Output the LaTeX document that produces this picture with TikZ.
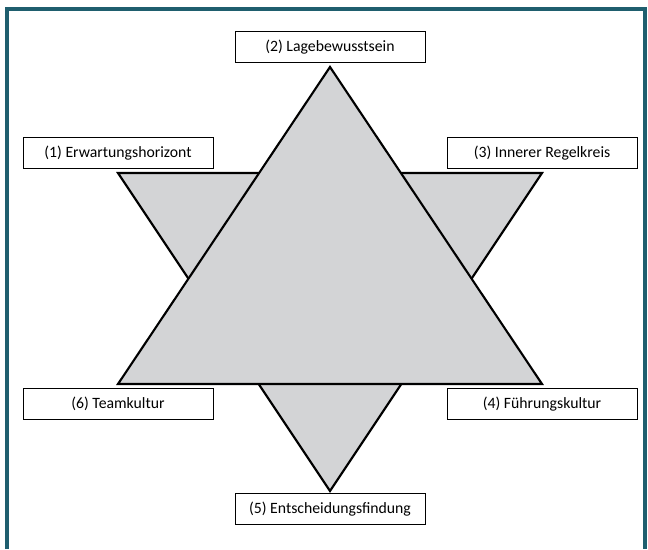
\documentclass[tikz,border=0pt]{standalone}
\usepackage{fontspec}
\setmainfont{Carlito}
\usetikzlibrary{positioning}
\definecolor{frameteal}{RGB}{31,94,110}
\definecolor{stargray}{RGB}{211,212,214}
\tikzset{
labelbox/.style={draw=black, line width=0.7pt, fill=white, minimum width=4.75cm,
minimum height=0.775cm, inner sep=0pt, font=\fontsize{11.2}{13}\selectfont},
star/.style={draw=black, line width=1.5pt, fill=stargray, line join=miter}
}
\begin{document}
\begin{tikzpicture}
\useasboundingbox (0,0) rectangle (16.2,13.725);
\draw[frameteal, line width=2.2pt] (0.175,0)--(0.175,13.5)--(16.125,13.5)--(16.125,0);
\coordinate (A) at (8.25,12.05);
\coordinate (BL) at (2.95,4.125);
\coordinate (BR) at (13.55,4.125);
\coordinate (TL) at (2.95,9.4);
\coordinate (TR) at (13.55,9.4);
\coordinate (D) at (8.25,1.45);
\draw[star] (TL)--(TR)--(D)--cycle;
\draw[star] (A)--(BR)--(BL)--cycle;
\node[labelbox, above=0.1cm of TL] (erw) {(1) Erwartungshorizont};
\node[labelbox, above=0.1cm of A] (lage) {(2) Lagebewusstsein};
\node[labelbox, above=0.1cm of TR] (regel) {(3) Innerer Regelkreis};
\node[labelbox, below=0.1cm of BR] (fuehr) {(4) Führungskultur};
\node[labelbox, below=0.05cm of D] (entsch) {(5) Entscheidungsfindung};
\node[labelbox, below=0.1cm of BL] (team) {(6) Teamkultur};
\end{tikzpicture}
\end{document}
